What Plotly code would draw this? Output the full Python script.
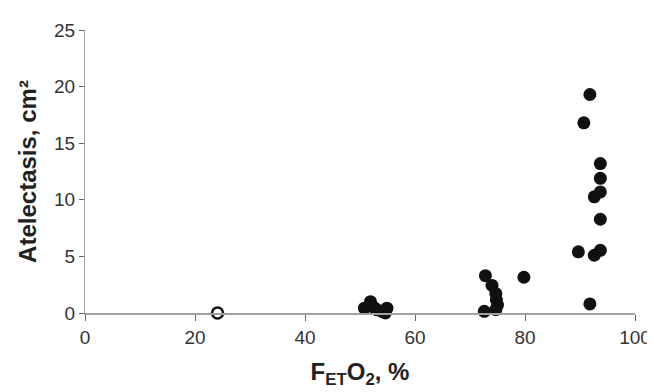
import plotly.graph_objects as go

# Filled points: FETO2 (%) and atelectasis (cm2)
fetO2 = [50.8, 51.9, 52.5, 53.1, 54.0, 54.6, 54.9,
         72.6, 72.8, 74.0, 74.7, 74.8, 75.0, 74.7,
         79.8,
         89.7, 90.7, 91.8, 91.8, 92.6, 92.6, 93.7, 93.7, 93.7, 93.7, 93.7]
atelectasis = [0.43, 1.0, 0.5, 0.28, 0.15, 0.0, 0.43,
               0.15, 3.3, 2.44, 1.72, 1.15, 0.7, 0.3,
               3.16,
               5.4, 16.8, 19.3, 0.8, 10.26, 5.1, 13.2, 11.9, 10.7, 8.28, 5.54]

# Open point
open_x = [24.1]
open_y = [0.0]

x_ticks = [0, 20, 40, 60, 80, 100]
y_ticks = [0, 5, 10, 15, 20, 25]

fig = go.Figure()
fig.add_trace(go.Scatter(x=fetO2, y=atelectasis, mode="markers",
                         marker=dict(size=13, color="#111111", line=dict(width=0)),
                         cliponaxis=False, showlegend=False))
fig.add_trace(go.Scatter(x=open_x, y=open_y, mode="markers",
                         marker=dict(size=11, color="white", line=dict(width=2.5, color="#111111")),
                         cliponaxis=False, showlegend=False))

tick_font = dict(family="Liberation Sans, Arial", size=19, color="#333333")
title_font = dict(family="Liberation Sans, Arial", size=24, color="#222222")

fig.update_xaxes(range=[0, 100], tickvals=x_ticks, showgrid=False, zeroline=False,
                 showline=True, linecolor="#a0a0a0", linewidth=2,
                 ticks="outside", ticklen=6, tickwidth=1, tickcolor="#666666",
                 tickfont=tick_font,
                 title=dict(text="<b>F<sub>ET</sub>O<sub>2</sub>, %</b>",
                            font=title_font, standoff=16))
fig.update_yaxes(range=[0, 25], tickvals=y_ticks, showgrid=False, zeroline=False,
                 showline=True, linecolor="#a0a0a0", linewidth=1,
                 ticks="outside", ticklen=5, tickwidth=1, tickcolor="#666666",
                 tickfont=tick_font,
                 title=dict(text="<b>Atelectasis, cm²</b>",
                            font=title_font, standoff=10))

fig.update_layout(width=655, height=392, margin=dict(l=77, r=23, t=15, b=87),
                  plot_bgcolor="white", paper_bgcolor="white")

fig.write_html("out.html")
